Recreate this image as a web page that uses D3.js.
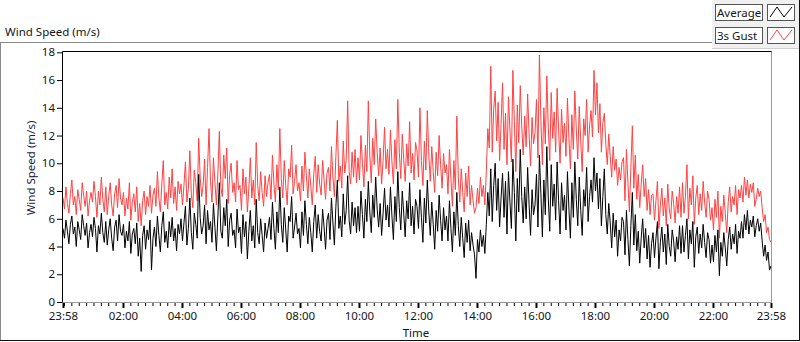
<!DOCTYPE html>
<html>
<head>
<meta charset="utf-8">
<script src="https://cdn.jsdelivr.net/npm/d3@7"></script>
<style>
body { margin: 0; background: #fff; }
svg text { font-family: "Noto Sans", sans-serif; font-size: 11.5px; fill: #151515; }
</style>
</head>
<body>
<div id="chart"></div>
<script>
// one reading every 3 minutes, from 23:58 to 23:58 the next day (20 per row = 1 hour)
var stepMinutes = 3;
var avgSpeed = [
 5.3,4.6,5.9,5.1,4.2,5.6,6.2,4.9,5.4,4.0,5.8,5.2,4.5,6.3,5.5,4.8,5.7,3.9,5.0,5.6,
 4.7,6.1,5.3,3.6,5.5,4.9,6.4,5.0,4.3,5.8,4.1,5.2,6.0,4.6,3.7,5.4,5.9,4.4,6.3,5.1,
 4.8,5.6,3.9,5.1,4.4,5.8,3.5,4.9,5.3,4.2,5.7,3.3,4.6,2.2,4.8,5.5,3.8,5.2,4.5,5.9,
 2.3,4.6,5.4,4.0,6.2,4.8,3.6,5.5,6.5,4.3,5.1,3.9,5.8,4.7,6.1,4.4,5.3,3.7,5.6,4.9,
 6.0,4.4,5.7,6.9,4.1,5.3,7.5,5.0,3.8,6.4,5.6,4.6,9.2,6.1,4.9,5.5,7.0,4.2,6.6,5.2,
 5.8,4.3,7.1,5.4,3.7,6.2,8.6,5.1,4.6,6.8,5.5,7.4,4.0,5.9,6.4,4.8,5.2,3.9,6.7,5.0,
 5.4,3.5,6.3,4.7,5.8,3.1,5.1,6.6,4.4,5.5,3.9,7.4,5.0,4.2,6.0,4.8,3.6,5.7,4.6,5.3,
 6.1,4.5,7.2,5.3,3.8,6.5,5.0,8.3,5.6,4.3,6.8,5.2,3.6,6.2,5.8,7.6,4.6,5.4,6.4,4.9,
 5.3,3.9,6.5,4.8,7.3,5.6,4.2,6.1,5.0,3.6,5.8,7.0,4.6,6.3,5.1,4.4,6.7,5.4,3.8,5.9,
 6.4,4.5,7.5,5.7,4.1,6.9,8.8,5.3,6.2,4.7,7.8,5.6,6.6,9.1,5.9,4.9,7.2,5.5,6.8,5.0,
 6.9,5.1,8.0,6.3,4.6,7.4,5.8,8.7,6.5,5.0,7.7,6.1,9.0,6.7,5.4,7.1,4.8,6.4,8.2,5.9,
 7.0,5.4,8.3,6.2,4.5,7.6,5.8,9.4,6.8,5.2,8.0,6.4,4.7,7.3,6.0,8.6,5.5,6.9,4.9,7.4,
 6.9,5.3,8.1,6.1,4.3,7.5,5.7,8.8,6.5,4.8,7.2,5.6,3.8,6.6,5.1,7.7,5.9,4.4,6.8,5.2,
 6.2,4.4,7.3,5.3,3.6,6.5,4.8,7.9,5.5,4.0,6.1,4.6,3.2,5.7,4.3,5.9,3.7,5.0,4.1,3.4,
 1.7,4.5,3.6,5.2,4.0,4.8,3.5,5.6,7.9,6.2,9.6,5.8,8.4,10.0,6.6,8.9,5.4,7.5,9.3,6.1,
 8.7,4.9,9.4,7.2,5.3,10.3,7.9,4.4,8.9,6.5,11.0,7.6,5.7,8.3,6.0,9.7,7.0,4.8,8.1,6.3,
 7.0,9.2,5.4,10.6,7.8,4.7,8.8,6.3,11.2,7.5,5.1,9.9,6.9,8.5,5.9,10.1,7.3,4.9,8.6,6.6,
 7.7,5.2,9.4,6.7,4.6,8.6,6.1,10.1,7.4,5.5,9.0,6.6,4.8,8.1,6.9,9.7,5.8,7.6,8.8,7.2,
 10.4,8.0,9.3,6.7,8.9,5.5,7.6,9.6,6.3,4.9,7.1,5.7,3.9,6.4,4.7,5.9,3.3,5.2,4.4,6.1,
 5.8,3.4,6.6,4.5,2.6,5.5,7.9,4.1,6.3,3.7,5.1,2.8,4.6,6.0,3.9,5.3,3.1,4.8,2.5,4.2,
 5.0,3.2,4.6,5.8,2.4,4.3,5.4,3.6,4.9,2.7,5.6,4.0,3.3,5.2,4.4,2.9,4.7,3.8,5.5,3.5,
 5.5,3.6,4.8,6.0,3.1,5.2,4.2,5.8,2.5,4.7,5.4,3.5,4.9,3.9,5.6,4.3,3.2,5.0,4.5,2.8,
 4.1,2.9,4.8,3.6,5.2,1.9,4.3,3.3,5.0,3.9,2.6,4.5,5.4,3.8,4.9,4.2,5.6,3.5,5.1,4.6,
 5.8,4.6,6.3,5.2,6.6,4.9,5.9,5.4,6.2,4.7,5.5,6.0,5.1,5.7,4.4,3.3,4.1,3.0,3.6,2.3,
 2.6
];
var gustSpeed = [
 7.5,6.7,8.3,7.1,6.4,7.8,8.8,7.0,7.6,6.3,8.1,7.4,6.6,8.6,7.7,6.9,8.0,6.2,7.3,7.9,
 7.2,8.7,7.6,6.1,8.0,7.0,9.0,7.4,6.5,8.3,6.3,7.6,8.6,7.0,6.2,7.8,8.4,6.8,8.9,7.5,
 7.0,7.9,6.2,7.5,6.7,8.6,5.9,7.2,7.8,6.5,8.3,5.8,7.1,5.5,7.3,8.0,6.3,7.6,6.9,8.4,
 6.4,7.7,8.2,6.9,9.4,7.5,6.5,8.5,10.2,7.0,7.9,6.7,9.0,7.5,9.6,7.1,8.3,6.6,8.7,7.8,
 8.5,7.0,8.4,10.1,7.2,8.2,10.9,7.8,6.8,9.5,8.6,7.3,11.8,9.0,7.6,8.4,10.3,7.0,9.7,12.5,
 8.7,7.2,10.4,8.6,7.0,9.3,12.3,8.3,7.6,10.6,8.9,11.1,7.1,9.2,10.0,7.9,8.6,7.2,10.2,8.1,
 8.4,6.6,9.6,7.8,9.0,6.5,8.2,10.4,7.5,8.8,7.0,11.5,8.4,7.3,9.4,7.9,6.9,9.1,7.6,8.6,
 9.2,7.4,10.6,8.5,7.2,9.9,8.1,12.5,8.9,7.5,10.2,8.4,7.0,9.6,9.0,11.3,7.8,8.7,9.9,8.0,
 8.6,7.3,9.8,8.0,10.8,9.1,7.5,9.6,8.4,7.0,9.2,10.5,7.9,9.9,8.5,7.7,10.2,8.8,7.4,9.3,
 9.7,8.0,11.2,9.0,7.6,10.5,13.1,8.7,9.8,8.2,11.6,9.3,10.2,14.5,9.4,8.5,10.8,9.0,11.0,8.6,
 10.4,8.8,12.0,10.0,8.3,11.3,9.4,14.5,10.6,8.6,11.8,9.9,13.2,10.8,9.1,11.1,8.5,10.2,12.6,9.6,
 11.0,9.2,12.4,10.1,8.5,11.7,9.6,14.6,10.8,8.9,12.1,10.3,8.7,11.4,9.8,13.0,9.3,10.7,8.8,11.5,
 10.9,9.0,14.0,10.2,8.4,11.6,9.5,13.8,10.6,8.7,11.2,9.4,7.9,10.8,9.1,12.0,9.9,8.2,10.7,9.3,
 9.9,7.8,11.0,8.9,6.9,10.2,8.1,13.4,9.0,7.2,9.6,7.9,6.5,9.3,7.6,9.8,7.0,8.4,7.3,6.4,
 6.8,8.2,7.1,9.0,7.6,8.4,7.0,9.4,12.5,11.1,17.0,10.8,13.9,15.2,11.6,14.4,10.2,12.8,15.8,11.0,
 13.6,9.9,14.8,12.4,10.1,16.7,13.0,9.4,14.2,11.5,15.6,12.7,10.6,13.4,11.2,15.0,12.1,9.8,13.3,11.4,
 12.2,14.6,10.4,17.8,13.1,9.9,14.0,11.4,16.3,12.6,10.2,15.1,11.8,13.7,10.8,15.4,12.4,10.0,13.9,11.5,
 12.9,10.5,14.7,11.8,9.6,13.5,11.0,15.2,12.4,10.3,14.1,11.6,9.4,13.2,12.0,14.6,10.8,12.7,13.8,11.9,
 16.7,13.5,15.8,12.2,14.3,10.8,12.9,13.6,11.4,9.9,12.1,10.5,9.0,11.2,9.5,10.3,8.4,9.7,8.8,10.1,
 10.4,7.3,11.0,8.6,6.5,9.7,12.7,8.2,10.6,7.4,9.2,6.8,8.5,9.9,7.6,8.9,6.6,8.1,6.3,7.7,
 7.8,5.9,7.3,8.7,5.3,7.0,8.2,6.2,7.5,5.5,8.5,6.7,6.0,8.0,7.1,5.7,7.6,6.4,8.3,6.1,
 8.6,6.4,7.6,9.9,6.0,8.2,7.0,9.1,5.6,7.5,8.4,6.3,7.8,6.6,8.7,7.2,6.1,8.0,7.4,5.9,
 6.8,5.2,7.4,6.1,8.0,4.6,6.9,5.8,7.7,6.4,5.0,7.2,8.3,6.5,7.6,7.0,8.4,6.3,8.1,7.5,
 8.4,7.2,9.0,7.7,8.8,7.5,8.5,7.9,8.6,6.9,7.4,8.2,7.6,8.0,6.8,5.8,6.3,5.0,5.4,4.5,
 4.3
];
var seriesNames = ["Average", "3s Gust"];
var yTicks = [0, 2, 4, 6, 8, 10, 12, 14, 16, 18];

/**
 * Constructor for the wind chart
 */
function WindChart(){
    var self = this;
    self.init();
};

/**
 * Sets up the svg, the frame and the scales
 */
WindChart.prototype.init = function(){
    var self = this;
    self.plot = {left: 63, top: 51, right: 771, bottom: 302};

    self.svg = d3.select("#chart").append("svg")
        .attr("width", 800)
        .attr("height", 342);

    self.startTime = new Date(2000, 0, 1, 23, 58);
    self.endTime = d3.timeMinute.offset(self.startTime, 24 * 60);

    self.x = d3.scaleTime()
        .domain([self.startTime, self.endTime])
        .range([self.plot.left, self.plot.right]);
    self.y = d3.scaleLinear()
        .domain([0, 18])
        .range([self.plot.bottom, 52.3]);

    //outer frame of the chart
    self.svg.append("line").attr("x1", 0).attr("x2", 712).attr("y1", 42.5).attr("y2", 42.5)
        .style("stroke", "#8a8a8a");
    self.svg.append("line").attr("x1", 0.5).attr("x2", 0.5).attr("y1", 42).attr("y2", 341)
        .style("stroke", "#8a8a8a");
    self.svg.append("line").attr("x1", 0).attr("x2", 800).attr("y1", 340.5).attr("y2", 340.5)
        .style("stroke", "#111");
    self.svg.append("line").attr("x1", 799.5).attr("x2", 799.5).attr("y1", 0).attr("y2", 341)
        .style("stroke", "#111");

    self.svg.append("text")
        .attr("x", 5)
        .attr("y", 36)
        .text("Wind Speed (m/s)");
};

/**
 * Draws axes, the two traces and the legend
 */
WindChart.prototype.update = function(){
    var self = this;
    var p = self.plot;

    var rows = avgSpeed.map(function(v, i){
        return {
            time: d3.timeMinute.offset(self.startTime, i * stepMinutes),
            avg: v,
            gust: gustSpeed[i]
        };
    });

    self.svg.append("clipPath").attr("id", "plotClip")
        .append("rect")
        .attr("x", p.left).attr("y", p.top)
        .attr("width", p.right - p.left + 1).attr("height", p.bottom - p.top);

    var lineGust = d3.line()
        .x(function(d){ return self.x(d.time); })
        .y(function(d){ return self.y(d.gust); });
    var lineAvg = d3.line()
        .x(function(d){ return self.x(d.time); })
        .y(function(d){ return self.y(d.avg); });

    var g = self.svg.append("g").attr("clip-path", "url(#plotClip)");
    g.append("path")
        .datum(rows)
        .attr("d", lineGust)
        .style("fill", "none")
        .style("stroke", "#ff4242")
        .style("stroke-width", 1);
    g.append("path")
        .datum(rows)
        .attr("d", lineAvg)
        .style("fill", "none")
        .style("stroke", "#000")
        .style("stroke-width", 1);

    //plot border: dark on top/left, grey on bottom/right
    self.svg.append("path")
        .attr("d", "M" + (p.left - 0.5) + "," + (p.bottom + 1) + "V" + (p.top + 0.5) + "H" + (p.right + 1))
        .style("fill", "none").style("stroke", "#000");
    self.svg.append("path")
        .attr("d", "M" + (p.right + 0.5) + "," + (p.top + 0.5) + "V" + (p.bottom + 0.5) + "H" + (p.left - 0.5))
        .style("fill", "none").style("stroke", "#9a9a9a");

    //y axis
    var yAxis = d3.axisLeft(self.y)
        .tickValues(yTicks)
        .tickSize(5)
        .tickPadding(2)
        .tickFormat(d3.format("d"));
    var ya = self.svg.append("g")
        .attr("transform", "translate(" + (p.left - 1) + ",0)")
        .call(yAxis);
    ya.select(".domain").remove();
    ya.selectAll("line").style("stroke", "#000");
    ya.selectAll("text").style("font-size", "11.5px").style("font-family", "Noto Sans, sans-serif").style("fill", "#151515");

    //x axis: labels at both ends and every 2 hours between, minor ticks every 15 minutes
    var majors = [self.startTime]
        .concat(d3.timeHour.every(2).range(d3.timeHour.offset(self.startTime, 1), self.endTime))
        .concat([self.endTime]);
    var minors = d3.timeMinute.every(15).range(self.startTime, self.endTime);

    var xMinor = d3.axisBottom(self.x)
        .tickValues(minors)
        .tickSize(3)
        .tickFormat("");
    var xm = self.svg.append("g")
        .attr("transform", "translate(0," + (p.bottom + 1) + ")")
        .call(xMinor);
    xm.select(".domain").remove();
    xm.selectAll("line").style("stroke", "#000");

    var xAxis = d3.axisBottom(self.x)
        .tickValues(majors)
        .tickSize(5)
        .tickPadding(4)
        .tickFormat(d3.timeFormat("%H:%M"));
    var xa = self.svg.append("g")
        .attr("transform", "translate(0," + (p.bottom + 1) + ")")
        .call(xAxis);
    xa.select(".domain").remove();
    xa.selectAll("line").style("stroke", "#000").style("stroke-width", 2);
    xa.selectAll("text").style("font-size", "11.5px").style("font-family", "Noto Sans, sans-serif").style("fill", "#151515");

    self.svg.append("text")
        .attr("x", 416)
        .attr("y", 337)
        .attr("text-anchor", "middle")
        .text("Time");

    self.svg.append("text")
        .attr("transform", "translate(35," + 168 + ") rotate(-90)")
        .attr("text-anchor", "middle")
        .style("fill", "#1c1c40")
        .text("Wind Speed (m/s)");

    //legend panel
    self.svg.append("rect")
        .attr("x", 712).attr("y", 0)
        .attr("width", 87).attr("height", 48)
        .style("fill", "#f0f0f0");
    self.svg.append("line").attr("x1", 712).attr("x2", 799).attr("y1", 48.5).attr("y2", 48.5)
        .style("stroke", "#d0d0d0");

    var legend = self.svg.selectAll(".legendItem")
        .data(seriesNames)
        .enter()
        .append("g")
        .attr("class", "legendItem")
        .attr("transform", function(d, i){ return "translate(715," + (4 + i * 23) + ")"; });

    legend.append("rect")
        .attr("x", 0.5).attr("y", 0.5)
        .attr("width", 47).attr("height", 16)
        .style("fill", "#fff")
        .style("stroke", "#555");
    legend.append("text")
        .attr("x", 2)
        .attr("y", 13)
        .text(function(d){ return d; });
    legend.append("rect")
        .attr("x", 52.5).attr("y", 0.5)
        .attr("width", 27).attr("height", 16)
        .style("fill", "#fff")
        .style("stroke", "#555");
    legend.append("polyline")
        .attr("points", "55,13 62,3 69,13 77,3")
        .style("fill", "none")
        .style("stroke", function(d, i){ return i == 0 ? "#000" : "#ff4242"; });
};

var chart = new WindChart();
chart.update();
</script>
</body>
</html>
